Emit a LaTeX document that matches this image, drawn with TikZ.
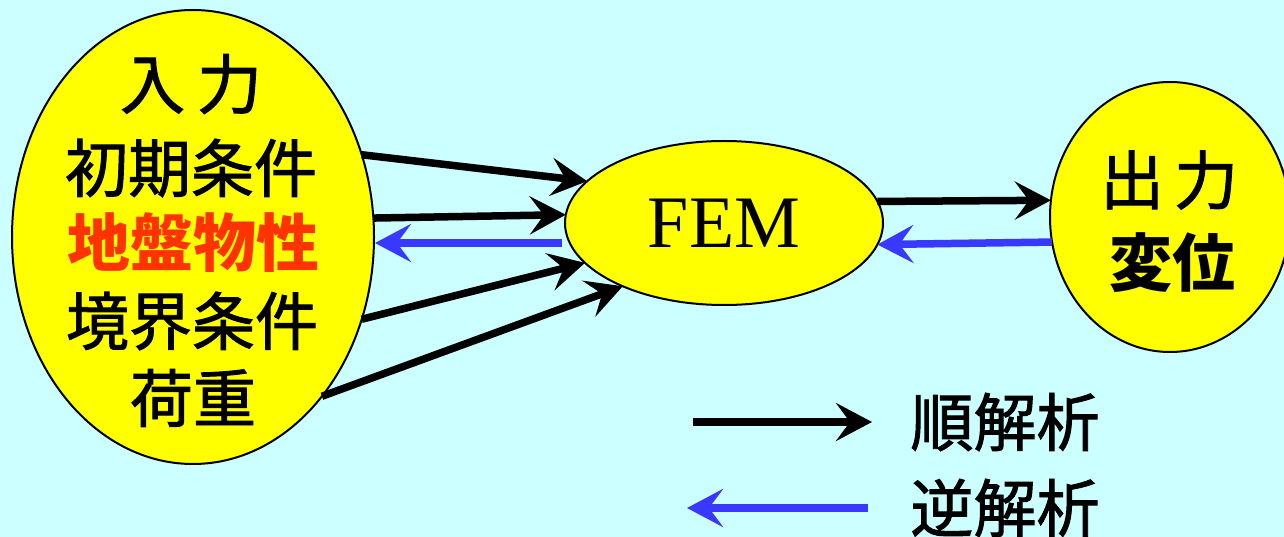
\documentclass[tikz,border=0pt]{standalone}
\usepackage{fontspec}
\setmainfont{Liberation Serif}
\newfontfamily\jp{Noto Sans CJK JP}[FakeBold=1.5]
\newfontfamily\jpb{Noto Sans CJK JP}
\usetikzlibrary{arrows.meta,shapes.geometric}

\definecolor{bgcyan}{HTML}{CCFFFF}
\definecolor{bubblefill}{HTML}{FFFF00}
\definecolor{invblue}{HTML}{3838FF}
\definecolor{hotred}{HTML}{FF3300}

\begin{document}
\begin{tikzpicture}[x=1pt,y=-1pt,
  bubble/.style={ellipse, draw=black, line width=2pt, fill=bubblefill,
                 inner sep=0pt, outer sep=0pt},
  fwd/.style={draw=black, line width=7.5pt,
              -{Stealth[length=36pt,width=38pt,inset=14pt]}},
  inv/.style={fwd, draw=invblue},
  lbl/.style={inner sep=0pt, font=\jp\fontsize{63}{63}\selectfont},
  lblbold/.style={inner sep=0pt, font=\jpb\bfseries\fontsize{63}{63}\selectfont},
]
\useasboundingbox (0,0) rectangle (1284,537);
\fill[bgcyan] (0,0) rectangle (1284,537);
\clip (0,0) rectangle (1284,537);

% the three bubbles
\node[bubble, minimum width=362pt, minimum height=454pt] (inp) at (193,237) {};
\node[bubble, minimum width=318pt, minimum height=164pt,
      font=\fontsize{74}{74}\selectfont] (fem) at (724,223) {FEM};
\node[bubble, minimum width=240pt, minimum height=270pt] (out) at (1170,217) {};

% input bubble text
\node[lbl, font=\jp\fontsize{65}{65}\selectfont] (tin) at (191,84) {入\hspace{12pt}力};
\node[lbl] (tinit) at (191,168) {初期条件};
\node[lblbold, text=hotred] (tsoil) at (193,243) {地盤物性};
\node[lbl] (tbound) at (192,321) {境界条件};
\node[lbl] (tload) at (193,398) {荷重};

% output bubble text
\node[lbl, font=\jp\fontsize{64}{64}\selectfont] (tout) at (1169,180) {出\hspace{10pt}力};
\node[lblbold] (tdisp) at (1172,263) {変位};

% forward and inverse flows
\draw[fwd] (inp.26.4) -- (fem.163.8);
\draw[fwd] (inp.6.3) -- (fem.177.8);
\draw[inv] ([shift={(-3,20)}]fem.180) -- ([shift={(1,6)}]inp.0);
\draw[fwd] (inp.334) -- (fem.196.3);
\draw[fwd] (inp.309.4) -- (fem.212.4);
\draw[fwd] (fem.8) -- (out.172.8);
\draw[inv] (out.192.4) -- (fem.352.6);

% legend
\coordinate (kfa) at (693,422);
\coordinate (kfb) at (872,422);
\coordinate (kia) at (868,508);
\coordinate (kib) at (687,508);
\draw[fwd] (kfa) -- (kfb);
\draw[inv] (kia) -- (kib);
\node[lbl] (tfwd) at (1005,422) {順解析};
\node[lbl] (tinv) at (1005,508) {逆解析};
\end{tikzpicture}
\end{document}
